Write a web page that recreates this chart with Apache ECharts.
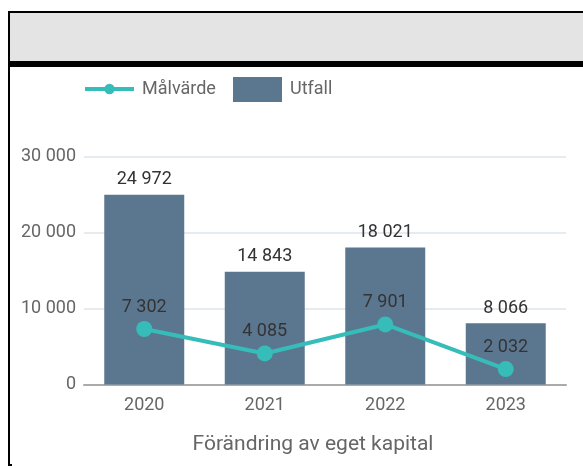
<!DOCTYPE html>
<html>
<head>
<meta charset="utf-8">
<script src="https://cdn.jsdelivr.net/npm/echarts@6/dist/echarts.min.js"></script>
<style>
  html, body { margin: 0; padding: 0; background: #fff; }
  #wrap { position: relative; width: 583px; height: 468px; overflow: hidden; }
  #chart { position: absolute; left: 0; top: 0; width: 583px; height: 468px; }
  .head { position: absolute; left: 8px; top: 11px; width: 580px; height: 50px;
          background: #e4e4e4; border-top: 2px solid #000; border-left: 2px solid #000; box-sizing: border-box; }
  .rule { position: absolute; left: 8px; top: 61px; width: 580px; height: 6px; background: #000; }
  .side { position: absolute; left: 8px; top: 67px; width: 2px; height: 399px; background: #000; }
  .foot { position: absolute; left: 8px; top: 464px; width: 4px; height: 2px; background: #000; }
</style>
</head>
<body>
<div id="wrap">
  <div id="chart"></div>
  <div class="head"></div>
  <div class="rule"></div>
  <div class="side"></div>
  <div class="foot"></div>
</div>
<script>
// data
var years = ["2020", "2021", "2022", "2023"];
var utfall = [24972, 14843, 18021, 8066];
var malvarde = [7302, 4085, 7901, 2032];

function fmt(v) {
  return String(v).replace(/\B(?=(\d{3})+(?!\d))/g, " ");
}

var legendText = { fontSize: 18, color: "#666", fontFamily: "Roboto", padding: [0, 0, 0, 3] };

var myChart = echarts.init(document.getElementById("chart"));
var option = {
  animation: false,
  textStyle: { fontFamily: "Roboto" },
  legend: [
    {
      left: 83,
      top: 80,
      padding: 0,
      itemWidth: 49,
      itemHeight: 13,
      lineStyle: { width: 4 },
      textStyle: legendText,
      data: ["Målvärde"]
    },
    {
      left: 233,
      top: 77,
      padding: 0,
      itemWidth: 49,
      itemHeight: 25,
      textStyle: legendText,
      data: [{ name: "Utfall", icon: "rect" }]
    }
  ],
  grid: { left: 84, right: 17, top: 156.5, bottom: 83.5 },
  xAxis: {
    type: "category",
    data: years,
    name: "Förändring av eget kapital",
    nameLocation: "middle",
    nameGap: 50,
    nameTextStyle: { fontSize: 21, color: "#666", fontFamily: "Roboto", padding: [0, 24, 0, 0] },
    axisLine: { lineStyle: { color: "#aaa", width: 2 } },
    axisTick: { show: false },
    axisLabel: { fontSize: 18, color: "#666", margin: 12, fontFamily: "Roboto" }
  },
  yAxis: {
    type: "value",
    min: 0,
    max: 30000,
    interval: 10000,
    axisLabel: { fontSize: 18, color: "#666", margin: 8, formatter: fmt, fontFamily: "Roboto" },
    splitLine: { lineStyle: { color: "#e6ebf0", width: 2 } }
  },
  series: [
    {
      name: "Utfall",
      type: "bar",
      data: utfall,
      barWidth: 80,
      itemStyle: { color: "#5b7790" },
      label: { show: true, position: "top", distance: 6, fontSize: 18, color: "#333", formatter: function (p) { return fmt(p.value); } }
    },
    {
      name: "Målvärde",
      type: "line",
      data: malvarde,
      symbol: "circle",
      symbolSize: 16,
      itemStyle: { color: "#36bdb9" },
      lineStyle: { color: "#36bdb9", width: 4 },
      label: { show: true, position: "top", distance: 5, fontSize: 18, color: "#333", formatter: function (p) { return fmt(p.value); } }
    }
  ]
};
myChart.setOption(option);

window.addEventListener("resize", function () {
  myChart.resize();
});
</script>
</body>
</html>
